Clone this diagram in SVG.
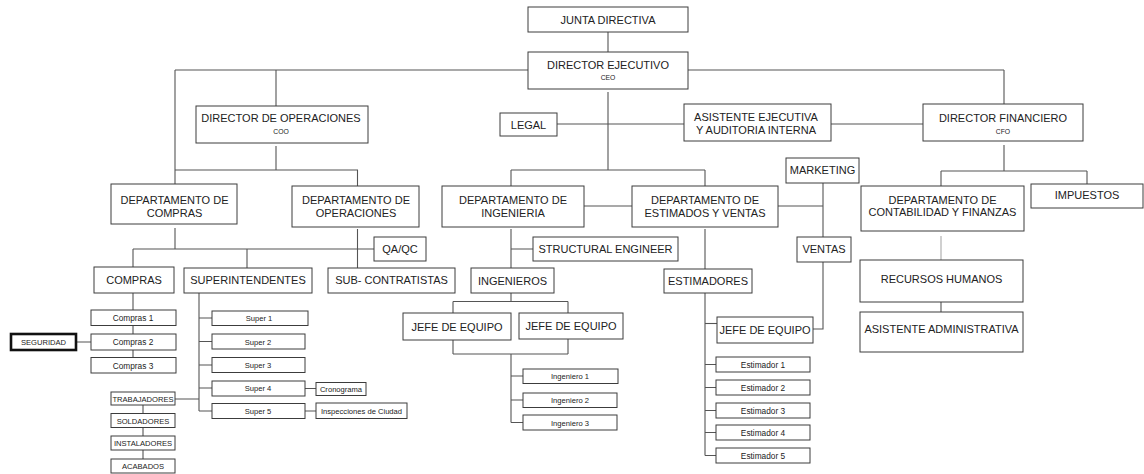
<svg xmlns="http://www.w3.org/2000/svg" width="1144" height="474" viewBox="0 0 1144 474">
  <style>
    .b { fill: #fff; stroke: #3c3c3c; stroke-width: 1; }
    .bold { stroke: #111; stroke-width: 2.6; }
    .t { font-family: "Liberation Sans", Arial, sans-serif; fill: #222; text-anchor: middle; }
    .L { font-size: 11px; }
    .m { font-size: 8.3px; }
    .s { font-size: 7.6px; }
    .xs { font-size: 6.8px; }
    .c path { fill: none; stroke: #555; stroke-width: 1.1; }
    .c path.faint { stroke: #aaa; }
  </style>

  <rect width="1144" height="474" fill="#fff"/>

  <!-- connectors -->
  <g id="connectors" class="c">
    <path d="M608,32 V52"/>
    <path d="M175,70 H528 M688,70 H1004"/>
    <path d="M175,70 V184"/>
    <path d="M276,70 V106 M276,146 V170 M175,170 H357.5 V186"/>
    <path d="M608,92 V170 M511,170 H705 M511,170 V186 M705,170 V186"/>
    <path d="M557,124 H684 M831,124 H923"/>
    <path d="M1004,70 V104 M1004,145 V171 M941,171 H1087 M941,171 V186 M1087,171 V184"/>
    <path class="faint" d="M941,236 V260"/>
    <path d="M941,302 V312"/>
    <!-- compras / operaciones -->
    <path d="M175,228 V249 M133,249 H374 M133,249 V267 M247,249 V268"/>
    <path d="M357.5,229 V268"/>
    <!-- ingenieria -->
    <path d="M584,206 H632"/>
    <path d="M511,229 V268 M511,249 H533"/>
    <path d="M511,293 V301.5 M453,301.5 H568 M453,301.5 V313 M568,301.5 V313"/>
    <path d="M453,340 V354 M568,339 V354 M453,354 H568 M511,354 V422.5"/>
    <path d="M511,376 H523 M511,400 H523 M511,422.5 H523"/>
    <!-- estimados y ventas -->
    <path d="M705,229 V269 M705,293 V455.5"/>
    <path d="M705,323.5 H717"/>
    <path d="M705,364.5 H716 M705,387.5 H716 M705,410.5 H716 M705,432.5 H716 M705,455.5 H716"/>
    <path d="M778,206 H823 M823,183 V237 M823,262 V329 H813"/>
    <!-- compras detail -->
    <path d="M133,293 V310 M133,325.5 V334 M133,350 V357.5 M76,342 H91"/>
    <!-- superintendentes detail -->
    <path d="M199,293 V411 M199,318 H212 M199,341.5 H212 M199,365 H212 M199,388 H212 M199,411 H212"/>
    <path d="M305,388.5 H316 M305,411 H316"/>
    <path d="M175,399 H199 M143,405 V413.5 M143,427.5 V436 M143,450 V459"/>
  </g>

  <!-- top level -->
  <g id="junta"><rect class="b" x="528" y="7" width="160" height="25"/><text class="t L" x="608" y="23.5">JUNTA DIRECTIVA</text></g>
  <g id="ceo"><rect class="b" x="528" y="52" width="160" height="37"/><text class="t L" x="608" y="69">DIRECTOR EJECUTIVO</text><text class="t xs" x="608" y="80">CEO</text></g>
  <g id="coo"><rect class="b" x="196" y="106" width="172" height="37"/><text class="t L" x="281" y="122">DIRECTOR DE OPERACIONES</text><text class="t xs" x="281" y="133.5">COO</text></g>
  <g id="legal"><rect class="b" x="500" y="113" width="57" height="23"/><text class="t L" x="528.5" y="128.5">LEGAL</text></g>
  <g id="asistente-ejecutiva"><rect class="b" x="684" y="104" width="147" height="37"/><text class="t L" x="756" y="121">ASISTENTE EJECUTIVA</text><text class="t L" x="756" y="133.5">Y AUDITORIA INTERNA</text></g>
  <g id="cfo"><rect class="b" x="923" y="104" width="160" height="37"/><text class="t L" x="1003" y="122">DIRECTOR FINANCIERO</text><text class="t xs" x="1003" y="133.5">CFO</text></g>

  <!-- departments -->
  <g id="dep-compras"><rect class="b" x="111" y="184" width="126" height="40"/><text class="t L" x="174.5" y="204">DEPARTAMENTO DE</text><text class="t L" x="174.5" y="216.5">COMPRAS</text></g>
  <g id="dep-operaciones"><rect class="b" x="292" y="186" width="127" height="41"/><text class="t L" x="356" y="204">DEPARTAMENTO DE</text><text class="t L" x="356" y="217">OPERACIONES</text></g>
  <g id="dep-ingenieria"><rect class="b" x="442" y="186" width="142" height="41"/><text class="t L" x="513" y="204">DEPARTAMENTO DE</text><text class="t L" x="513" y="217">INGENIERIA</text></g>
  <g id="dep-estimados"><rect class="b" x="632" y="186" width="146" height="41"/><text class="t L" x="705" y="204">DEPARTAMENTO DE</text><text class="t L" x="705" y="217">ESTIMADOS Y VENTAS</text></g>
  <g id="marketing"><rect class="b" x="786" y="158" width="73" height="25"/><text class="t L" x="822.5" y="174">MARKETING</text></g>
  <g id="dep-contabilidad"><rect class="b" x="861" y="186" width="163" height="45"/><text class="t L" x="942.5" y="204">DEPARTAMENTO DE</text><text class="t L" x="942.5" y="215.5">CONTABILIDAD Y FINANZAS</text></g>
  <g id="impuestos"><rect class="b" x="1031" y="184" width="112" height="24"/><text class="t L" x="1087" y="199">IMPUESTOS</text></g>
  <g id="rrhh"><rect class="b" x="860" y="260" width="163" height="42"/><text class="t L" x="941.5" y="282.5">RECURSOS HUMANOS</text></g>
  <g id="asistente-admin"><rect class="b" x="860" y="312" width="163" height="40"/><text class="t L" x="941.5" y="332.5">ASISTENTE ADMINISTRATIVA</text></g>

  <!-- second level -->
  <g id="qaqc"><rect class="b" x="374" y="237" width="52" height="24"/><text class="t L" x="400" y="253">QA/QC</text></g>
  <g id="compras"><rect class="b" x="94" y="267" width="80" height="26"/><text class="t L" x="134" y="284">COMPRAS</text></g>
  <g id="superintendentes"><rect class="b" x="184" y="268" width="128" height="25"/><text class="t L" x="248" y="284">SUPERINTENDENTES</text></g>
  <g id="subcontratistas"><rect class="b" x="328" y="268" width="127" height="25"/><text class="t L" x="391.5" y="284">SUB- CONTRATISTAS</text></g>
  <g id="structural"><rect class="b" x="533" y="237" width="145" height="24"/><text class="t L" x="605.5" y="253">STRUCTURAL ENGINEER</text></g>
  <g id="ingenieros"><rect class="b" x="471" y="268" width="83" height="25"/><text class="t L" x="512.5" y="284.5">INGENIEROS</text></g>
  <g id="estimadores"><rect class="b" x="664" y="269" width="88" height="24"/><text class="t L" x="708" y="284.5">ESTIMADORES</text></g>
  <g id="ventas"><rect class="b" x="797" y="237" width="54" height="25"/><text class="t L" x="824" y="253">VENTAS</text></g>

  <!-- team leads -->
  <g id="jefe-1"><rect class="b" x="403" y="313" width="108" height="27"/><text class="t L" x="457" y="331">JEFE DE EQUIPO</text></g>
  <g id="jefe-2"><rect class="b" x="519" y="313" width="104" height="26"/><text class="t L" x="571" y="330">JEFE DE EQUIPO</text></g>
  <g id="jefe-3"><rect class="b" x="717" y="317" width="96" height="26"/><text class="t L" x="765" y="333.5">JEFE DE EQUIPO</text></g>

  <!-- engineers -->
  <g id="ingeniero-1"><rect class="b" x="523" y="369" width="95" height="14.5"/><text class="t s" x="570" y="379">Ingeniero 1</text></g>
  <g id="ingeniero-2"><rect class="b" x="523" y="393" width="94" height="14.5"/><text class="t s" x="570" y="403">Ingeniero 2</text></g>
  <g id="ingeniero-3"><rect class="b" x="523" y="415" width="94" height="15"/><text class="t s" x="570" y="425.5">Ingeniero 3</text></g>

  <!-- estimators -->
  <g id="estimador-1"><rect class="b" x="716" y="357" width="94" height="15"/><text class="t m" x="763" y="367.5">Estimador 1</text></g>
  <g id="estimador-2"><rect class="b" x="716" y="380" width="94" height="15"/><text class="t m" x="763" y="390.5">Estimador 2</text></g>
  <g id="estimador-3"><rect class="b" x="716" y="403" width="94" height="15"/><text class="t m" x="763" y="413.5">Estimador 3</text></g>
  <g id="estimador-4"><rect class="b" x="716" y="425" width="94" height="15"/><text class="t m" x="763" y="435.5">Estimador 4</text></g>
  <g id="estimador-5"><rect class="b" x="716" y="448" width="94" height="15"/><text class="t m" x="763" y="458.5">Estimador 5</text></g>

  <!-- purchasing -->
  <g id="compras-1"><rect class="b" x="91" y="310" width="85" height="15.5"/><text class="t m" x="133" y="321">Compras 1</text></g>
  <g id="compras-2"><rect class="b" x="91" y="334" width="85" height="16"/><text class="t m" x="133" y="345">Compras 2</text></g>
  <g id="compras-3"><rect class="b" x="91" y="357.5" width="85" height="15.5"/><text class="t m" x="133" y="368.5">Compras 3</text></g>
  <g id="seguridad"><rect class="b bold" x="11" y="334" width="65" height="16"/><text class="t s" x="43.5" y="345">SEGURIDAD</text></g>

  <!-- superintendents -->
  <g id="super-1"><rect class="b" x="212" y="311" width="96" height="14.5"/><text class="t s" x="259" y="321">Super 1</text></g>
  <g id="super-2"><rect class="b" x="212" y="334" width="93" height="15"/><text class="t s" x="258" y="344.5">Super 2</text></g>
  <g id="super-3"><rect class="b" x="212" y="357.5" width="93" height="15"/><text class="t s" x="258" y="368">Super 3</text></g>
  <g id="super-4"><rect class="b" x="212" y="381" width="93" height="15"/><text class="t s" x="258" y="391">Super 4</text></g>
  <g id="super-5"><rect class="b" x="212" y="403.5" width="93" height="15"/><text class="t s" x="258" y="414">Super 5</text></g>
  <g id="cronograma"><rect class="b" x="316" y="382.5" width="50" height="13"/><text class="t s" x="341" y="391.5">Cronograma</text></g>
  <g id="inspecciones"><rect class="b" x="316" y="403" width="91" height="15.5"/><text class="t s" x="361.5" y="413.5">Inspecciones de Ciudad</text></g>

  <!-- crews -->
  <g id="trabajadores"><rect class="b" x="111" y="392" width="64" height="13"/><text class="t s" x="143" y="401.5">TRABAJADORES</text></g>
  <g id="soldadores"><rect class="b" x="111" y="413.5" width="64" height="14"/><text class="t s" x="143" y="423.5">SOLDADORES</text></g>
  <g id="instaladores"><rect class="b" x="111" y="436" width="64" height="14"/><text class="t s" x="143" y="446">INSTALADORES</text></g>
  <g id="acabados"><rect class="b" x="111" y="459" width="64" height="14"/><text class="t s" x="143" y="469">ACABADOS</text></g>
</svg>
